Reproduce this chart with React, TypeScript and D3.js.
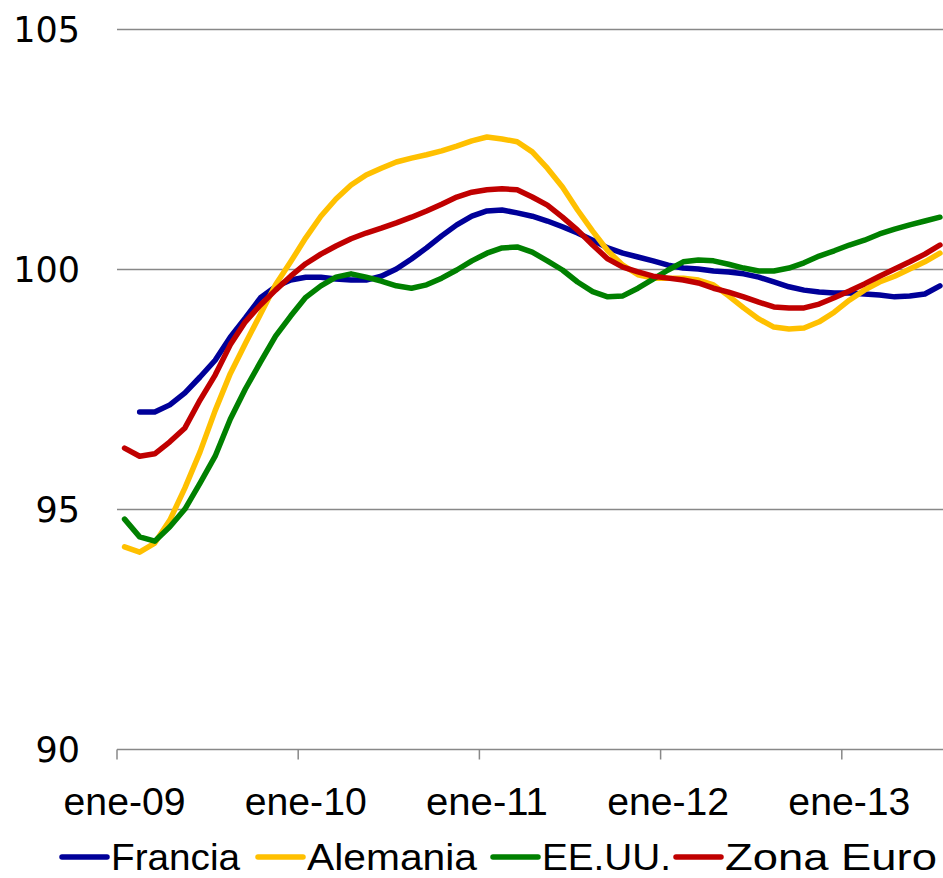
import React from "react";
import * as d3 from "d3";

const monthNames = ["ene", "feb", "mar", "abr", "may", "jun", "jul", "ago", "sep", "oct", "nov", "dic"];
const years = ["09", "10", "11", "12", "13"];
const months: string[] = [];
years.forEach((y) => monthNames.forEach((m) => months.push(`${m}-${y}`)));
const periods = months.slice(0, 55); // ene-09 .. jul-13 (data)
const axisMonths = months.slice(0, 55);

const yTicks = [90, 95, 100, 105];
const xTickLabels = ["ene-09", "ene-10", "ene-11", "ene-12", "ene-13"];

const francia: (number | null)[] = [
  null, 97.03, 97.03, 97.18, 97.43, 97.76, 98.11, 98.59, 98.99, 99.41, 99.64, 99.78,
  99.84, 99.84, 99.8, 99.78, 99.78, 99.86, 100.01, 100.22, 100.45, 100.7, 100.93, 101.11,
  101.22, 101.24, 101.18, 101.11, 101.01, 100.89, 100.76, 100.61, 100.45, 100.34, 100.26, 100.18,
  100.09, 100.03, 100.01, 99.97, 99.95, 99.91, 99.84, 99.74, 99.64, 99.57, 99.53, 99.51,
  99.51, 99.49, 99.47, 99.43, 99.45, 99.49, 99.66,
];
const alemania: number[] = [
  94.22, 94.11, 94.3, 94.78, 95.45, 96.2, 97.06, 97.83, 98.46, 99.07, 99.68, 100.16,
  100.66, 101.11, 101.47, 101.76, 101.97, 102.11, 102.24, 102.32, 102.39, 102.47, 102.57, 102.68,
  102.76, 102.72, 102.66, 102.45, 102.11, 101.72, 101.24, 100.8, 100.39, 100.09, 99.89, 99.82,
  99.82, 99.82, 99.78, 99.68, 99.45, 99.2, 98.97, 98.8, 98.76, 98.78, 98.91, 99.11,
  99.36, 99.57, 99.74, 99.86, 100.01, 100.16, 100.34,
];
const eeuu: number[] = [
  94.8, 94.43, 94.34, 94.64, 95.01, 95.55, 96.11, 96.88, 97.51, 98.07, 98.61, 99.03,
  99.42, 99.66, 99.84, 99.91, 99.84, 99.76, 99.66, 99.61, 99.68, 99.82, 99.99, 100.18,
  100.34, 100.45, 100.47, 100.36, 100.18, 99.99, 99.74, 99.54, 99.43, 99.45, 99.61, 99.8,
  99.99, 100.16, 100.2, 100.18, 100.11, 100.03, 99.97, 99.97, 100.03, 100.14, 100.28, 100.39,
  100.51, 100.61, 100.74, 100.84, 100.93, 101.01, 101.09,
];
const zonaEuro: number[] = [
  96.28, 96.11, 96.16, 96.41, 96.7, 97.28, 97.8, 98.43, 98.91, 99.26, 99.57, 99.86,
  100.12, 100.32, 100.49, 100.64, 100.76, 100.86, 100.97, 101.09, 101.22, 101.36, 101.51, 101.61,
  101.66, 101.68, 101.66, 101.51, 101.34, 101.09, 100.82, 100.51, 100.22, 100.05, 99.95, 99.86,
  99.82, 99.78, 99.72, 99.61, 99.53, 99.43, 99.32, 99.22, 99.2, 99.2, 99.28, 99.41,
  99.55, 99.7, 99.86, 100.01, 100.16, 100.32, 100.51,
];

const seriesNames = ["Francia", "Alemania", "EE.UU.", "Zona Euro"];
const seriesColors = ["#000099", "#FFC000", "#008000", "#C00000"];
const seriesData = [francia, alemania, eeuu, zonaEuro];

const W = 943;
const H = 878;

export default function App() {
  const x = d3.scaleBand<string>().domain(axisMonths).range([117, 947.5]).paddingInner(0).paddingOuter(0);
  const bw = x.bandwidth();
  const y = d3.scaleLinear().domain([90, 105]).range([749.5, 29.5]);

  const line = d3
    .line<number | null>()
    .defined((d) => d != null)
    .x((_, i) => (x(periods[i]) as number) + bw / 2)
    .y((d) => y(d as number));

  const legendLayout = [
    { lx: 62, tx: 111, tw: 129 },
    { lx: 258, tx: 307, tw: 170 },
    { lx: 493, tx: 542, tw: 129 },
    { lx: 676, tx: 725, tw: 212 },
  ];

  return (
    <svg
      width={W}
      height={H}
      style={{ position: "absolute", left: 0, top: 0, background: "#fff" }}
    >
      <rect x={0} y={0} width={W} height={H} fill="#fff" />
      {yTicks.map((t) => (
        <g key={t}>
          <line x1={117} x2={W} y1={y(t)} y2={y(t)} stroke="#888" strokeWidth={1.5} />
          <text
            x={80}
            y={y(t)}
            textAnchor="end"
            dominantBaseline="central"
            fontFamily="DejaVu Sans, Verdana, sans-serif"
            fontSize={35}
            fill="#000"
          >
            {t}
          </text>
        </g>
      ))}
      {xTickLabels.map((lab) => {
        const x0 = x(lab) as number;
        return (
          <g key={lab}>
            <line x1={x0} x2={x0} y1={y(90)} y2={y(90) + 10} stroke="#888" strokeWidth={1.5} />
            <text
              x={x0 + bw / 2}
              y={815}
              textAnchor="middle"
              fontFamily="Liberation Sans, Arial, sans-serif"
              fontSize={39}
              textLength={122}
              lengthAdjust="spacingAndGlyphs"
              fill="#000"
            >
              {lab}
            </text>
          </g>
        );
      })}
      {seriesData.map((s, k) => (
        <path
          key={seriesNames[k]}
          d={line(s) || ""}
          fill="none"
          stroke={seriesColors[k]}
          strokeWidth={5.5}
          strokeLinejoin="round"
          strokeLinecap="round"
        />
      ))}
      {seriesNames.map((n, k) => (
        <g key={n}>
          <line
            x1={legendLayout[k].lx}
            x2={legendLayout[k].lx + 45}
            y1={857}
            y2={857}
            stroke={seriesColors[k]}
            strokeWidth={5.5}
            strokeLinecap="round"
          />
          <text
            x={legendLayout[k].tx}
            y={870}
            fontFamily="Liberation Sans, Arial, sans-serif"
            fontSize={37}
            textLength={legendLayout[k].tw}
            lengthAdjust="spacingAndGlyphs"
            fill="#000"
          >
            {n}
          </text>
        </g>
      ))}
    </svg>
  );
}
